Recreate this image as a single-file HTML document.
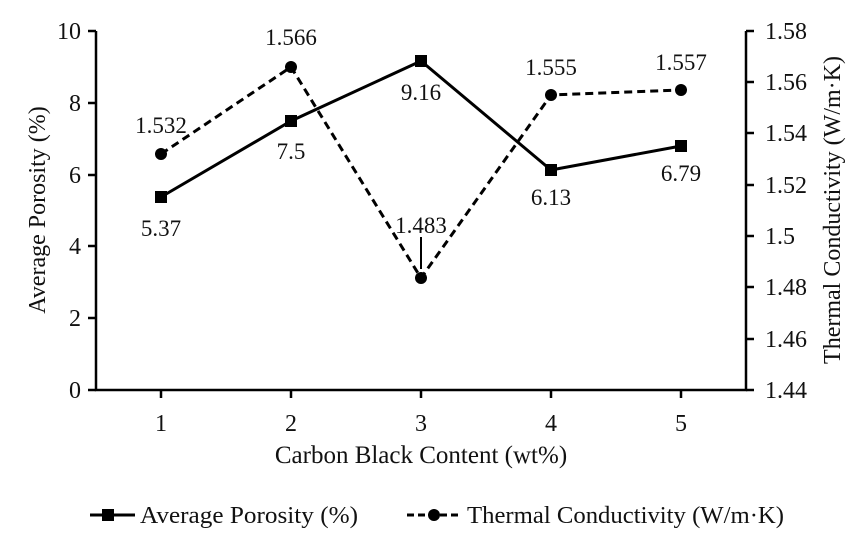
<!DOCTYPE html>
<html><head><meta charset="utf-8"><style>body{margin:0;background:#fff}svg{display:block}text{font-family:"Liberation Serif",serif;fill:#111}</style></head><body>
<svg width="865" height="547" viewBox="0 0 865 547" xmlns="http://www.w3.org/2000/svg">
<g stroke="#000" stroke-width="2.5" fill="none">
<path d="M96 31V390H746V31"/>
<path d="M88 31H96M88 103H96M88 175H96M88 246H96M88 318H96M88 390H96"/>
<path d="M746 31H754M746 82H754M746 133H754M746 185H754M746 236H754M746 287H754M746 339H754M746 390H754"/>
<path d="M161 390V398M291 390V398M421 390V398M551 390V398M681 390V398"/>
</g>
<g font-size="24" text-anchor="end">
<text x="81" y="39">10</text><text x="81" y="111">8</text><text x="81" y="183">6</text><text x="81" y="254">4</text><text x="81" y="326">2</text><text x="81" y="398">0</text>
</g>
<g font-size="24">
<text x="765" y="39">1.58</text><text x="765" y="90">1.56</text><text x="765" y="141">1.54</text><text x="765" y="193">1.52</text><text x="765" y="244">1.5</text><text x="765" y="295">1.48</text><text x="765" y="347">1.46</text><text x="765" y="398">1.44</text>
</g>
<g font-size="24" text-anchor="middle">
<text x="161" y="431">1</text><text x="291" y="431">2</text><text x="421" y="431">3</text><text x="551" y="431">4</text><text x="681" y="431">5</text>
<text x="421" y="463" font-size="25">Carbon Black Content (wt%)</text>
<text transform="translate(45,210) rotate(-90)">Average Porosity (%)</text>
<text transform="translate(840,210) rotate(-90)">Thermal Conductivity (W/m·K)</text>
</g>
<polyline points="161,197 291,121 421,61 551,170 681,146" fill="none" stroke="#000" stroke-width="3"/>
<polyline points="161,154 291,67 421,278 551,95 681,90" fill="none" stroke="#000" stroke-width="3" stroke-dasharray="8,5"/>
<g fill="#000">
<rect x="155" y="191" width="12" height="12"/><rect x="285" y="115" width="12" height="12"/><rect x="415" y="55" width="12" height="12"/><rect x="545" y="164" width="12" height="12"/><rect x="675" y="140" width="12" height="12"/>
<circle cx="161" cy="154" r="6"/><circle cx="291" cy="67" r="6"/><circle cx="421" cy="278" r="6"/><circle cx="551" cy="95" r="6"/><circle cx="681" cy="90" r="6"/>
</g>
<path d="M421 237V269" stroke="#000" stroke-width="2"/>
<g font-size="23" text-anchor="middle">
<text x="161" y="133">1.532</text><text x="161" y="236">5.37</text>
<text x="291" y="45">1.566</text><text x="291" y="159">7.5</text>
<text x="421" y="100">9.16</text><text x="421" y="233">1.483</text>
<text x="551" y="75">1.555</text><text x="551" y="205">6.13</text>
<text x="681" y="70">1.557</text><text x="681" y="181">6.79</text>
</g>
<path d="M90 515H135" stroke="#000" stroke-width="3"/><rect x="102" y="509" width="12" height="12" fill="#000"/>
<text x="140" y="523" font-size="24" textLength="218" lengthAdjust="spacingAndGlyphs">Average Porosity (%)</text>
<path d="M407 515H462" stroke="#000" stroke-width="3" stroke-dasharray="7,4"/><circle cx="434" cy="515" r="6" fill="#000"/>
<text x="467" y="523" font-size="24" textLength="317" lengthAdjust="spacingAndGlyphs">Thermal Conductivity (W/m·K)</text>
</svg>
</body></html>
